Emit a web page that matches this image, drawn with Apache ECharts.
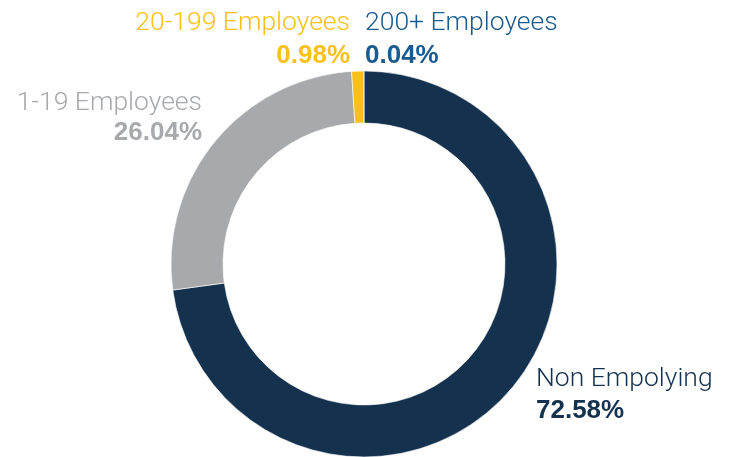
<!DOCTYPE html>
<html>
<head>
	<meta charset="utf-8" />
	<title>Employer Size</title>
	<script src="https://cdn.jsdelivr.net/npm/echarts@6/dist/echarts.min.js"></script>
	<style>
		html, body { margin: 0; padding: 0; background: #fff; }
		#chart { width: 733px; height: 457px; }
	</style>
</head>
<body>
<div id="chart"></div>
<script type="text/javascript">
	// data
	var names = ['Non Empolying', '1-19 Employees', '20-199 Employees', '200+ Employees'];
	var shares = [72.58, 26.04, 0.98, 0.04];
	var sliceColors = ['#14314e', '#a7a9ac', '#f9c01c', '#1a5a8e'];
	var textColors = ['#14314e', '#a7a9ac', '#f9c01c', '#1a5a8e'];

	// where each label sits: [x, y of name line, y of value line, align]
	var labelPos = [
		[536, 379, 411, 'left'],
		[202, 103, 133, 'right'],
		[350, 23.5, 56, 'right'],
		[365, 23.5, 56, 'left']
	];

	var graphics = [];
	for (var i = 0; i < names.length; i++) {
		var p = labelPos[i];
		graphics.push({
			type: 'text', x: p[0], y: p[1],
			style: {
				text: names[i], fill: textColors[i],
				font: '300 26.5px Roboto', textAlign: p[3], textVerticalAlign: 'middle'
			}
		});
		graphics.push({
			type: 'text', x: p[0], y: p[2],
			style: {
				text: shares[i].toFixed(2) + '%', fill: textColors[i],
				font: 'bold 26px "Liberation Sans"', textAlign: p[3], textVerticalAlign: 'middle'
			}
		});
	}

	var myChart = echarts.init(document.getElementById('chart'));
	var option = {
		animation: false,
		graphic: graphics,
		series: [{
			type: 'pie',
			center: [364, 264],
			radius: [141, 193],
			startAngle: 90,
			clockwise: true,
			label: { show: false },
			labelLine: { show: false },
			emphasis: { disabled: true },
			itemStyle: { borderColor: '#fff', borderWidth: 0.6 },
			data: names.map(function (n, i) {
				return { name: n, value: shares[i], itemStyle: { color: sliceColors[i] } };
			})
		}]
	};
	myChart.setOption(option);
</script>
</body>
</html>
